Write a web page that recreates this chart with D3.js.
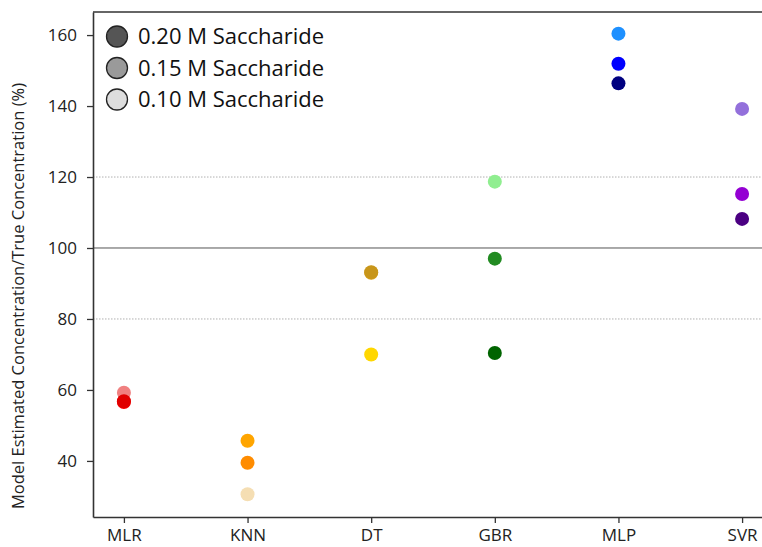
<!DOCTYPE html>
<html>
<head>
<meta charset="utf-8">
<script src="https://cdn.jsdelivr.net/npm/d3@7"></script>
<style>
  body { margin: 0; background: #fff; }
  svg { display: block; }
</style>
</head>
<body>
<div id="chart"></div>
<script>
// chart data
var models = ["MLR", "KNN", "DT", "GBR", "MLP", "SVR"];
var concLabels = ["0.20 M Saccharide", "0.15 M Saccharide", "0.10 M Saccharide"];
var legendFills = ["#555555", "#9a9a9a", "#dddddd"];

// values per concentration (0.20, 0.15, 0.10)
var vals020 = [56.8, 39.5, 93.2, 70.4, 146.4, 108.2];
var vals015 = [56.6, 45.7, 93.0, 97.0, 151.9, 115.2];
var vals010 = [59.2, 30.6, 70.0, 118.7, 160.4, 139.2];

var colors020 = ["#e00000", "#ff8c00", "#c8961a", "#006400", "#000080", "#4b0082"];
var colors015 = ["#ff0000", "#ffa500", "#daa520", "#228b22", "#0000ff", "#9400d3"];
var colors010 = ["#f08080", "#f5deb3", "#ffd700", "#90ee90", "#1e90ff", "#9370db"];

var yTicks = [40, 60, 80, 100, 120, 140, 160];

var svgWidth = 762, svgHeight = 547;
// plot area runs past the right edge of the picture
var margin = {top: 12, right: -11, bottom: 30, left: 93};
var width = svgWidth - margin.left - margin.right;
var height = svgHeight - margin.top - margin.bottom;

var svg = d3.select("#chart").append("svg")
  .attr("width", svgWidth)
  .attr("height", svgHeight);

var g = svg.append("g")
  .attr("transform", `translate(${margin.left},${margin.top})`);

var x = d3.scalePoint()
  .domain(models)
  .range([0, width])
  .padding(0.25);

var y = d3.scaleLinear()
  .domain([24.2, 166.5])
  .range([height, 0]);

// reference lines
g.selectAll(".ref")
  .data([80, 120])
  .enter().append("line")
  .attr("x1", 0).attr("x2", width)
  .attr("y1", d => y(d)).attr("y2", d => y(d))
  .attr("stroke", "#b0b0b0")
  .attr("stroke-width", 1)
  .attr("stroke-dasharray", "1.5,1.5");

g.append("line")
  .attr("x1", 0).attr("x2", width)
  .attr("y1", y(100)).attr("y2", y(100))
  .attr("stroke", "#555")
  .attr("stroke-width", 1);

// points, lightest drawn first
var series = [
  {vals: vals010, colors: colors010},
  {vals: vals015, colors: colors015},
  {vals: vals020, colors: colors020}
];

series.forEach(function(s) {
  g.selectAll(null)
    .data(models)
    .enter().append("circle")
    .attr("cx", d => x(d))
    .attr("cy", (d, i) => y(s.vals[i]))
    .attr("r", 7)
    .attr("fill", (d, i) => s.colors[i]);
});

// axes
var yAxis = g.append("g")
  .call(d3.axisLeft(y).tickValues(yTicks).tickSize(6).tickSizeOuter(0).tickPadding(10));
var xAxis = g.append("g")
  .attr("transform", `translate(0,${height})`)
  .call(d3.axisBottom(x).tickSize(6).tickSizeOuter(0).tickPadding(6));

[yAxis, xAxis].forEach(function(a) {
  a.select(".domain").attr("stroke", "#333").attr("stroke-width", 1.6);
  a.selectAll(".tick line").attr("stroke", "#333").attr("stroke-width", 1.3);
  a.selectAll(".tick text")
    .attr("fill", "#222")
    .style("font-family", "Open Sans, sans-serif")
    .style("font-size", "17px");
});

// top spine
g.append("line")
  .attr("x1", 0).attr("x2", width)
  .attr("y1", 0).attr("y2", 0)
  .attr("stroke", "#333")
  .attr("stroke-width", 1.6);

// y label
svg.append("text")
  .attr("transform", "translate(24,296) rotate(-90)")
  .attr("text-anchor", "middle")
  .style("font-family", "Open Sans, sans-serif")
  .style("font-size", "16.5px")
  .attr("fill", "#222")
  .text("Model Estimated Concentration/True Concentration (%)");

// legend
var legend = svg.append("g");
concLabels.forEach(function(lbl, i) {
  var ly = 36.5 + i * 31.5;
  legend.append("circle")
    .attr("cx", 117).attr("cy", ly)
    .attr("r", 10.5)
    .attr("fill", legendFills[i])
    .attr("stroke", "#222")
    .attr("stroke-width", 1.3);
  legend.append("text")
    .attr("x", 138).attr("y", ly)
    .attr("dy", "0.35em")
    .style("font-family", "Open Sans, sans-serif")
    .style("font-size", "22px")
    .attr("fill", "#111")
    .text(lbl);
});
</script>
</body>
</html>
